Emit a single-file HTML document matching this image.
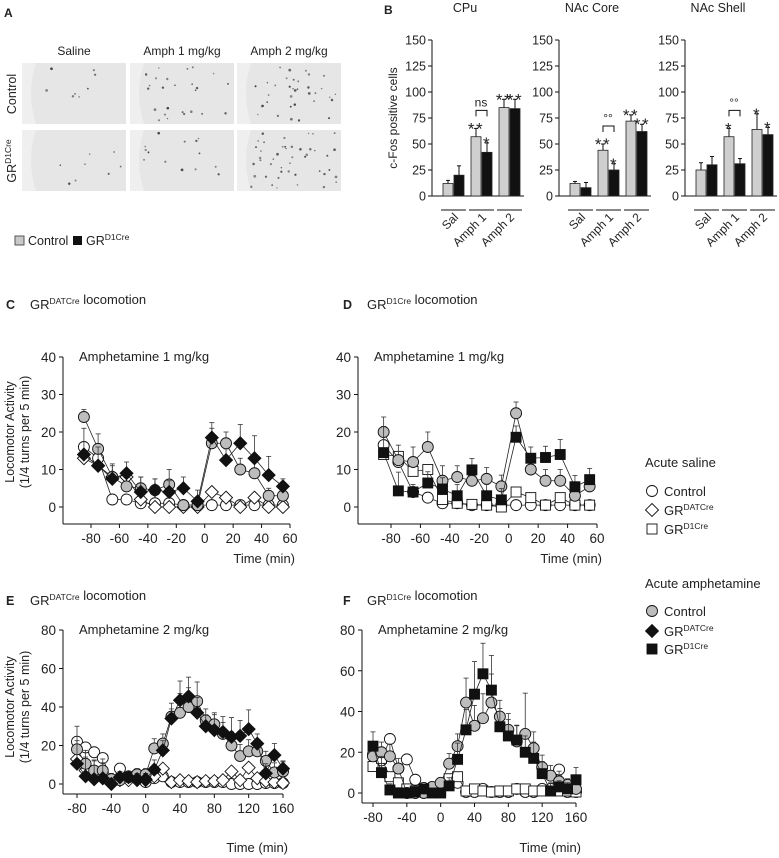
<!DOCTYPE html>
<html><head><meta charset="utf-8"><style>
body{margin:0;background:#fff}
svg{display:block;font-family:"Liberation Sans",sans-serif}
</style></head><body>
<svg id="fig" width="779" height="858" viewBox="0 0 779 858" xmlns="http://www.w3.org/2000/svg"></svg>
<script>
// ---------- DATA ----------
const bRegions=["CPu","NAc Core","NAc Shell"];
const bCategories=["Sal","Amph 1","Amph 2"];
const bTicks=[0,25,50,75,100,125,150];
const bControl=[[12,57,85],[12,44,72],[25,57,64]];
const bGR=[[20,42,84],[8,25,62],[30,31,59]];
const bControlErr=[[3,8,8],[2,6,6],[7,8,15]];
const bGRErr=[[9,9,9],[5,6,7],[8,5,7]];
const bStarsControl=[["","**","**"],["","**","**"],["","*","*"]];
const bStarsGR=[["","*","**"],["","*","**"],["","","*"]];
const bBracket=["ns","°°","°°"];

const tTicks1=[-80,-60,-40,-20,0,20,40,60];
const yTicks1=[0,10,20,30,40];
const times1=[-85,-75,-65,-55,-45,-35,-25,-15,-5,5,15,25,35,45,55];
const cAmpCtrl=[24,15.5,8,5.5,5,4.5,6,0.5,0.5,17,17,10,9,3,3];
const cAmpDAT=[14,11,7.5,9,4,4.5,4,5,1.5,18.5,12.5,17,13,8.5,5.5];
const cSalCtrl=[16,13,2,2,1,1,1,0.5,0.5,0.5,0.5,0.5,0.5,0.5,0.5];
const cSalDAT=[13,11,8,8,2,0,0,0,0,4,2.5,0,2.5,0,0];
const cErrCtrl=[2,4,3,3,3,3,4,1,1,4,3,3,3,2,2];
const cErrDAT=[7,5,4,3,4,3,3,3,3,4,3,5,6,5,2];
const dAmpCtrl=[20,12.5,12,16,7,8,7,7.5,5.5,25,10,7,7,3,5.5];
const dAmpD1=[14.5,4.3,4,6.4,4.8,3,9.9,3,1.9,18.6,13,13.2,14,5.4,7.3];
const dSalCtrl=[16.5,12,4,2.5,1,1,0.5,0.5,0.5,0.5,0.5,0.5,0.5,0.5,0.5];
const dSalD1=[14,13.5,9.5,10,2,1,0.7,0.5,0,4,2.5,0.5,2.5,0.5,0.5];
const dErrCtrl=[4,4,4,4,4,3,3,3,3,3,3,3,3,3,3];
const dErrD1=[7,5,2,3,3,3,3,3,3,3,3,3,4,3,3];

const tTicks2=[-80,-40,0,40,80,120,160];
const yTicks2=[0,20,40,60,80];
const times2=[-80,-70,-60,-50,-40,-30,-20,-10,0,10,20,30,40,50,60,70,80,90,100,110,120,130,140,150,160];
const eAmpCtrl=[18,10.5,7,7,2.5,2,3.5,5,5,18.5,21,35,37,40,43,33,31,26,20,14.5,17,17,12,6,6.5];
const eAmpDAT=[10.5,4,2.5,3,0,3.5,3.5,2.5,2.5,7.5,17.5,34,43.5,45.5,37,30,28,27,24.5,25,28.5,21,5.5,15,8];
const eSalCtrl=[22,19,16.5,13.5,2,8,4,5,1,3,4,1,1,1,1,1,1,1,0,0,0,0,0.5,0.5,0.5];
const eSalDAT=[13,7,5,3,1,2,2,2,2,4,8,1,2,1.5,1,1.5,1.5,2,6.5,2,8.5,3,1.5,1,0.5];
const eErrCtrl=[12,7,5,6,3,3,3,3,3,5,5,7,10,10,10,6,6,6,7,6,6,5,5,5,5];
const eErrDAT=[12,10,10,8,3,3,3,3,3,5,5,5,10,10,8,6,8,8,10,8,10,5,5,6,4];
const fAmpCtrl=[18,20,18,12,0,0,0,3,5,14.4,23,44.4,33,36.7,44.4,37.5,31,25.3,29,22,12.6,8.5,5.7,4,2];
const fAmpD1=[23,10,1.5,0,0,0.5,2,0,0,3.5,16.5,31,48.5,58.5,50.5,32.5,28,26,20,17,9.5,1,3,2,6.5];
const fSalCtrl=[19,16,26.5,12,16.5,6.5,2.5,1,4,6,5,0.5,0.5,2,0.5,0.5,0.5,2,0.5,0.5,2,2,11.5,0.5,0.5];
const fSalD1=[13,17,8,5,2,1,0.5,0.5,1,7,8,1,2,1,0.5,1,1,2,2,1,1,1,1,1,0.5];
const fErrCtrl=[6,5,6,5,2,2,2,2,2,5,6,12,10,12,14,8,8,8,20,8,6,5,5,3,3];
const fErrD1=[7,8,3,2,2,2,2,2,2,4,8,10,16,15,17,9,8,7,8,8,6,4,3,3,6];

// ---------- HELPERS ----------
const NS="http://www.w3.org/2000/svg";
const svg=document.getElementById('fig');
function el(tag,attrs,parent,txt){const e=document.createElementNS(NS,tag);for(const k in attrs)e.setAttribute(k,attrs[k]);if(txt!==undefined)e.textContent=txt;(parent||svg).appendChild(e);return e;}
function grp(name){const g=el('g',{});return g;}
function txt(g,x,y,s,size,anchor,extra){const t=el('text',Object.assign({x:x,y:y,'font-size':size,'text-anchor':anchor||'start',fill:'#222'},extra||{}),g);t.innerHTML=s;return t;}
function marker(g,type,fill,x,y){
  const a={fill:fill,stroke:'#111','stroke-width':0.9};
  if(type==='c')return el('circle',Object.assign({cx:x,cy:y,r:5.5},a),g);
  if(type==='s')return el('rect',Object.assign({x:x-5,y:y-5,width:10,height:10},a),g);
  return el('polygon',Object.assign({points:`${x},${y-6.5} ${x+6.5},${y} ${x},${y+6.5} ${x-6.5},${y}`},a),g);
}
const SUP_DAT='GR<tspan font-size="8.5" dy="-5">DATCre</tspan>';
const SUP_D1='GR<tspan font-size="8.5" dy="-5">D1Cre</tspan>';

// ---------- PANEL A ----------
const gA=grp('panel-a');
txt(gA,4,17,'<tspan font-weight="bold">A</tspan>',12);
const colNames=["Saline","Amph 1 mg/kg","Amph 2 mg/kg"];
const colX=[22,130,237];
const rowY=[63,130];
const dotCounts=[[8,25,35],[8,14,45]];
let seed=7;function rnd(){seed=(seed*9301+49297)%233280;return seed/233280;}
colNames.forEach((n,i)=>{txt(gA,colX[i]+52,55,n,12,'middle');});
rowY.forEach((ry,r)=>{colX.forEach((cx,c)=>{
  const im=el('rect',{x:cx,y:ry,width:104,height:61,fill:'#e6e6e6'},gA);
  
  el('path',{d:`M${cx} ${ry} h14 q-10 30 0 61 h-14z`,fill:'#efefef'},gA);
  for(let k=0;k<dotCounts[r][c];k++){el('circle',{cx:cx+14+rnd()*88,cy:ry+3+rnd()*55,r:0.7+rnd()*0.7,fill:'#333','fill-opacity':0.5+rnd()*0.4},gA);}
});});
txt(gA,0,0,'Control',12.5,'middle',{transform:'translate(16,94) rotate(-90)'});
txt(gA,0,0,SUP_D1,12.5,'middle',{transform:'translate(16,161) rotate(-90)'});
const legA=grp('legend-b');
el('rect',{x:15,y:236,width:9,height:9,fill:'#c8c8c8',stroke:'#555'},legA);
txt(legA,28,245,'Control',12.5);
el('rect',{x:73,y:236,width:9,height:9,fill:'#111'},legA);
txt(legA,86,245,SUP_D1,12.5);

// ---------- PANEL B ----------
const gB=grp('panel-b');
txt(gB,384,14,'<tspan font-weight="bold">B</tspan>',12);
const bAxisX=[432,559,685];
const bY0=196,bY150=40;
function by(v){return bY0-(v/150)*(bY0-bY150);}
txt(gB,0,0,'c-Fos positive cells',12,'middle',{transform:'translate(397,118) rotate(-90)'});
bRegions.forEach((reg,r)=>{
  const ax=bAxisX[r];
  const g=grp('bar-chart-'+reg.toLowerCase().replace(' ','-'));
  txt(g,ax+33,12,reg,12.5,'middle');
  el('line',{x1:ax,y1:bY150,x2:ax,y2:bY0,stroke:'#111','stroke-width':1},g);
  bTicks.forEach(t=>{el('line',{x1:ax-4,y1:by(t),x2:ax,y2:by(t),stroke:'#111'},g);txt(g,ax-6,by(t)+4.5,String(t),12.5,'end');});
  el('line',{x1:ax,y1:bY0,x2:ax+92,y2:bY0,stroke:'#111'},g);
  bCategories.forEach((cat,c)=>{
    const gx=ax+11+28*c;
    [[bControl,bControlErr,'#cfcfcf',gx,bStarsControl],[bGR,bGRErr,'#111',gx+11,bStarsGR]].forEach(([vals,errs,col,x,stars],s)=>{
      const v=vals[r][c],e=errs[r][c];
      el('line',{x1:x+5,y1:by(v),x2:x+5,y2:by(v+e),stroke:'#111'},g);
      el('line',{x1:x+3,y1:by(v+e),x2:x+7,y2:by(v+e),stroke:'#111'},g);
      const b=el('rect',{x:x,y:by(v),width:10,height:bY0-by(v),fill:col,stroke:'#222','stroke-width':0.8},g);
      
      
      if(stars[r][c])txt(g,x+5,by(v+e)+6,stars[r][c],17,'middle',{'letter-spacing':'1.5'});
    });
    el('line',{x1:gx-2,y1:210,x2:gx+23,y2:210,stroke:'#111'},g);
    txt(g,0,0,cat,12,'end',{transform:`translate(${gx+16},218) rotate(-45)`});
    if(c===1){
      const top=Math.min(by(bControl[r][1]+bControlErr[r][1]),by(bGR[r][1]+bGRErr[r][1]))-18;
      el('path',{d:`M${gx+5} ${top+6} V${top} H${gx+16} V${top+6}`,fill:'none',stroke:'#111'},g);
      txt(g,gx+10,top-4,bBracket[r],12,'middle');
    }
  });
});

// ---------- LINE PANELS ----------
function linePanel(cfg){
  const g=grp(cfg.name);
  const {ax,xl,xr,tmin,tmax,y0,yTop,ymax,xAxisY}=cfg;
  const sx=t=>xl+(t-tmin)/(tmax-tmin)*(xr-xl);
  const sy=v=>y0-v/ymax*(y0-yTop);
  txt(g,cfg.lx,cfg.ly,'<tspan font-weight="bold">'+cfg.letter+'</tspan>',12.5);
  txt(g,cfg.lx+24,cfg.ly,cfg.title+' locomotion',13);
  txt(g,ax+16,yTop+4,cfg.sub,13);
  el('line',{x1:ax,y1:yTop,x2:ax,y2:xAxisY,stroke:'#111'},g);
  el('line',{x1:ax,y1:xAxisY,x2:xr,y2:xAxisY,stroke:'#111'},g);
  cfg.yticks.forEach(t=>{el('line',{x1:ax-4,y1:sy(t),x2:ax,y2:sy(t),stroke:'#111'},g);txt(g,ax-7,sy(t)+5,String(t),13.5,'end');});
  cfg.xticks.forEach(t=>{el('line',{x1:sx(t),y1:xAxisY,x2:sx(t),y2:xAxisY+4,stroke:'#111'},g);txt(g,sx(t),xAxisY+19,String(t),13.5,'middle');});
  txt(g,xr+5,cfg.timeY,'Time (min)',13,'end');
  if(cfg.ylab){
    txt(g,0,0,'Locomotor Activity',12.5,'middle',{transform:`translate(14,${(yTop+y0)/2}) rotate(-90)`});
    txt(g,0,0,'(1/4 turns per 5 min)',12.5,'middle',{transform:`translate(29,${(yTop+y0)/2}) rotate(-90)`});
  }
  cfg.series.forEach(s=>{
    const sg=el('g',{},g);
    
    
    const pts=s.vals.map((v,i)=>sx(cfg.times[i])+','+sy(v)).join(' ');
    el('polyline',{points:pts,fill:'none',stroke:'#222','stroke-width':0.8},sg);
    if(s.errs)s.vals.forEach((v,i)=>{const x=sx(cfg.times[i]);el('line',{x1:x,y1:sy(v),x2:x,y2:sy(v+s.errs[i]),stroke:'#333','stroke-width':0.8},sg);el('line',{x1:x-2.5,y1:sy(v+s.errs[i]),x2:x+2.5,y2:sy(v+s.errs[i]),stroke:'#333','stroke-width':0.8},sg);});
    s.vals.forEach((v,i)=>{marker(sg,s.type,s.fill,sx(cfg.times[i]),sy(v));});
  });
}
linePanel({name:'panel-c',letter:'C',title:SUP_DAT,lx:6,ly:309,sub:'Amphetamine 1 mg/kg',ax:63,xl:91,xr:290,tmin:-80,tmax:60,y0:507,yTop:357,ymax:40,xAxisY:524,timeY:563,ylab:true,
  yticks:yTicks1,xticks:tTicks1,times:times1,series:[
  {name:'series-saline-control',vals:cSalCtrl,type:'c',fill:'#fff'},
  {name:'series-saline-datcre',vals:cSalDAT,type:'d',fill:'#fff'},
  {name:'series-amph-control',vals:cAmpCtrl,errs:cErrCtrl,type:'c',fill:'#bdbdbd'},
  {name:'series-amph-datcre',vals:cAmpDAT,errs:cErrDAT,type:'d',fill:'#111'}]});
linePanel({name:'panel-d',letter:'D',title:SUP_D1,lx:343,ly:309,sub:'Amphetamine 1 mg/kg',ax:358,xl:391,xr:597,tmin:-80,tmax:60,y0:507,yTop:357,ymax:40,xAxisY:524,timeY:563,ylab:false,
  yticks:yTicks1,xticks:tTicks1,times:times1,series:[
  {name:'series-saline-control',vals:dSalCtrl,type:'c',fill:'#fff'},
  {name:'series-saline-d1cre',vals:dSalD1,type:'s',fill:'#fff'},
  {name:'series-amph-control',vals:dAmpCtrl,errs:dErrCtrl,type:'c',fill:'#bdbdbd'},
  {name:'series-amph-d1cre',vals:dAmpD1,errs:dErrD1,type:'s',fill:'#111'}]});
linePanel({name:'panel-e',letter:'E',title:SUP_DAT,lx:6,ly:605,sub:'Amphetamine 2 mg/kg',ax:63,xl:77,xr:283,tmin:-80,tmax:160,y0:784,yTop:630,ymax:80,xAxisY:794,timeY:852,ylab:true,
  yticks:yTicks2,xticks:tTicks2,times:times2,series:[
  {name:'series-saline-control',vals:eSalCtrl,type:'c',fill:'#fff'},
  {name:'series-saline-datcre',vals:eSalDAT,type:'d',fill:'#fff'},
  {name:'series-amph-control',vals:eAmpCtrl,errs:eErrCtrl,type:'c',fill:'#bdbdbd'},
  {name:'series-amph-datcre',vals:eAmpDAT,errs:eErrDAT,type:'d',fill:'#111'}]});
linePanel({name:'panel-f',letter:'F',title:SUP_D1,lx:343,ly:605,sub:'Amphetamine 2 mg/kg',ax:362,xl:373,xr:576,tmin:-80,tmax:160,y0:793,yTop:630,ymax:80,xAxisY:803,timeY:852,ylab:false,
  yticks:yTicks2,xticks:tTicks2,times:times2,series:[
  {name:'series-saline-control',vals:fSalCtrl,type:'c',fill:'#fff'},
  {name:'series-saline-d1cre',vals:fSalD1,type:'s',fill:'#fff'},
  {name:'series-amph-control',vals:fAmpCtrl,errs:fErrCtrl,type:'c',fill:'#bdbdbd'},
  {name:'series-amph-d1cre',vals:fAmpD1,errs:fErrD1,type:'s',fill:'#111'}]});

// ---------- LEGENDS ----------
const legS=grp('legend-acute-saline');
txt(legS,645,467,'Acute saline',13);
marker(legS,'c','#fff',652,491);txt(legS,664,496,'Control',13);
marker(legS,'d','#fff',652,510);txt(legS,664,515,SUP_DAT,13);
marker(legS,'s','#fff',652,529);txt(legS,664,534,SUP_D1,13);
const legM=grp('legend-acute-amphetamine');
txt(legM,645,588,'Acute amphetamine',13);
marker(legM,'c','#bdbdbd',652,611);txt(legM,664,616,'Control',13);
marker(legM,'d','#111',652,631);txt(legM,664,636,SUP_DAT,13);
marker(legM,'s','#111',652,649);txt(legM,664,654,SUP_D1,13);
</script>
</body></html>
